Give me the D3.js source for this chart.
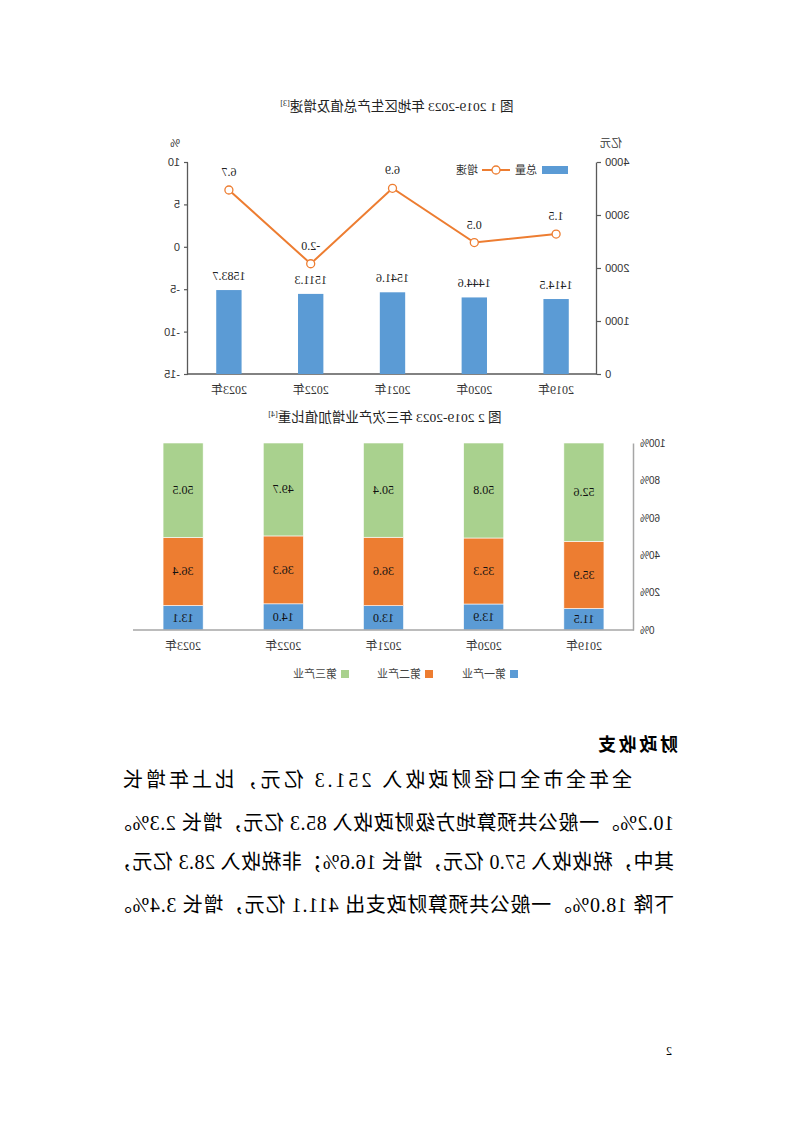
<!DOCTYPE html>
<html>
<head>
<meta charset="utf-8">
<script src="https://cdn.jsdelivr.net/npm/d3@7"></script>
<style>
  body { margin: 0; background: #fff; }
  svg { display: block; }
</style>
</head>
<body>
<div id="page"></div>
<script>
// chart 1 data
const years = ["2019年", "2020年", "2021年", "2022年", "2023年"];
const gdpTotal = [1414.5, 1444.6, 1541.6, 1511.3, 1583.7];
const gdpGrowth = [1.5, 0.5, 6.9, -2.0, 6.7];
const totalTicks = [0, 1000, 2000, 3000, 4000];
const growthTicks = [-15, -10, -5, 0, 5, 10];

// chart 2 data
const sectorNames = ["第一产业", "第二产业", "第三产业"];
const primaryShare = [11.5, 13.9, 13.0, 14.0, 13.1];
const secondaryShare = [35.9, 35.3, 36.6, 36.3, 36.4];
const tertiaryShare = [52.6, 50.8, 50.4, 49.7, 50.5];
const shareTicks = [0, 20, 40, 60, 80, 100];

const textLines = [
    "全年全市全口径财政收入 251.3 亿元，比上年增长",
    "10.2%。一般公共预算地方级财政收入 85.3 亿元，增长 2.3%。",
    "其中，税收收入 57.0 亿元，增长 16.6%；非税收入 28.3 亿元，",
    "下降 18.0%。一般公共预算财政支出 411.1 亿元，增长 3.4%。"
];

const W = 794, H = 1123;
const sans = "'Liberation Sans', 'Noto Sans CJK SC', sans-serif";
const serif = "'Liberation Serif', 'Noto Sans CJK SC', serif";
const blue = "#5B9BD5", orange = "#ED7D31", green = "#A9D18E";

const svg = d3.select("#page").append("svg")
    .attr("width", W)
    .attr("height", H);

// the page is shown mirrored left-right
const page = svg.append("g")
    .attr("transform", `translate(${W},0) scale(-1,1)`);

// ---------- figure 1 ----------
const t1 = page.append("text")
    .attr("x", 397).attr("y", 111)
    .attr("text-anchor", "middle")
    .attr("font-family", serif)
    .attr("font-size", "13.5px")
    .attr("fill", "#222");
t1.append("tspan").text("图 1 2019-2023 年地区生产总值及增速");
t1.append("tspan").attr("font-size", "8px").attr("dy", -5).text("[3]");

const x1 = d3.scaleBand().domain(years).range([197, 606])
    .paddingInner(0.69).paddingOuter(0.345);
const yL = d3.scaleLinear().domain([0, 4000]).range([374, 162]);
const yR = d3.scaleLinear().domain([-15, 10]).range([374, 162]);

const axisColor = "#595959";

const gL = page.append("g")
    .attr("transform", "translate(197,0)")
    .call(d3.axisLeft(yL).tickValues(totalTicks).tickFormat(d => String(d))
        .tickSize(4).tickSizeOuter(0).tickPadding(4));
const gR = page.append("g")
    .attr("transform", "translate(606,0)")
    .call(d3.axisRight(yR).tickValues(growthTicks).tickFormat(d => String(d))
        .tickSize(4).tickSizeOuter(0).tickPadding(4));
[gL, gR].forEach(g => {
    g.select(".domain").attr("stroke", axisColor).attr("stroke-width", 1.3);
    g.selectAll(".tick line").attr("stroke", axisColor).attr("stroke-width", 1.2);
    g.selectAll(".tick text").attr("fill", "#333").attr("font-size", "11px").attr("font-family", sans);
});

page.append("line")
    .attr("x1", 197).attr("x2", 606)
    .attr("y1", yL(0)).attr("y2", yL(0))
    .attr("stroke", axisColor).attr("stroke-width", 1.5);

page.append("text").attr("x", 183).attr("y", 147)
    .attr("text-anchor", "middle").attr("font-family", sans)
    .attr("font-size", "11px").attr("fill", "#333").text("亿元");
page.append("text").attr("x", 619).attr("y", 147)
    .attr("text-anchor", "middle").attr("font-family", sans)
    .attr("font-size", "11px").attr("fill", "#333").text("%");

page.selectAll("rect.total")
    .data(gdpTotal)
    .enter().append("rect")
    .attr("class", "total")
    .attr("x", (d, i) => x1(years[i]))
    .attr("y", d => yL(d))
    .attr("width", x1.bandwidth())
    .attr("height", d => yL(0) - yL(d))
    .attr("fill", blue);

page.selectAll("text.totalLabel")
    .data(gdpTotal)
    .enter().append("text")
    .attr("x", (d, i) => x1(years[i]) + x1.bandwidth() / 2)
    .attr("y", d => yL(d) - 10)
    .attr("text-anchor", "middle")
    .attr("font-family", serif)
    .attr("font-size", "12px")
    .attr("fill", "#222")
    .text(d => d.toFixed(1));

const cx = (d, i) => x1(years[i]) + x1.bandwidth() / 2;
const line = d3.line().x(cx).y(d => yR(d));
page.append("path")
    .datum(gdpGrowth)
    .attr("d", line)
    .attr("fill", "none")
    .attr("stroke", orange)
    .attr("stroke-width", 2);

page.selectAll("circle.growth")
    .data(gdpGrowth)
    .enter().append("circle")
    .attr("cx", cx)
    .attr("cy", d => yR(d))
    .attr("r", 4)
    .attr("fill", "#fff")
    .attr("stroke", orange)
    .attr("stroke-width", 1.3);

page.selectAll("text.growthLabel")
    .data(gdpGrowth)
    .enter().append("text")
    .attr("x", cx)
    .attr("y", d => yR(d) - 14)
    .attr("text-anchor", "middle")
    .attr("font-family", serif)
    .attr("font-size", "12px")
    .attr("fill", "#222")
    .text(d => d.toFixed(1));

page.selectAll("text.year1")
    .data(years)
    .enter().append("text")
    .attr("x", d => x1(d) + x1.bandwidth() / 2)
    .attr("y", 394)
    .attr("text-anchor", "middle")
    .attr("font-family", serif)
    .attr("font-size", "12px")
    .attr("fill", "#333")
    .text(d => d);

// legend
page.append("rect").attr("x", 226).attr("y", 166).attr("width", 26).attr("height", 8).attr("fill", blue);
page.append("text").attr("x", 257).attr("y", 174).attr("font-family", sans)
    .attr("font-size", "11px").attr("fill", "#333").text("总量");
page.append("line").attr("x1", 284).attr("x2", 312).attr("y1", 170).attr("y2", 170)
    .attr("stroke", orange).attr("stroke-width", 2);
page.append("circle").attr("cx", 298).attr("cy", 170).attr("r", 4)
    .attr("fill", "#fff").attr("stroke", orange).attr("stroke-width", 1.3);
page.append("text").attr("x", 316).attr("y", 174).attr("font-family", sans)
    .attr("font-size", "11px").attr("fill", "#333").text("增速");

// ---------- figure 2 ----------
const t2 = page.append("text")
    .attr("x", 409).attr("y", 422)
    .attr("text-anchor", "middle")
    .attr("font-family", serif)
    .attr("font-size", "13.5px")
    .attr("fill", "#222");
t2.append("tspan").text("图 2 2019-2023 年三次产业增加值比重");
t2.append("tspan").attr("font-size", "8px").attr("dy", -5).text("[4]");

const x2 = d3.scaleBand().domain(years).range([160, 661])
    .paddingInner(0.6).paddingOuter(0.3);
const y2 = d3.scaleLinear().domain([0, 100]).range([630, 443]);

const shareRows = years.map((y, i) => ({
    year: y,
    "第一产业": primaryShare[i],
    "第二产业": secondaryShare[i],
    "第三产业": tertiaryShare[i]
}));
const stacked = d3.stack().keys(sectorNames)(shareRows);
const sectorColor = d3.scaleOrdinal().domain(sectorNames).range([blue, orange, green]);

const layers = page.selectAll("g.layer")
    .data(stacked)
    .enter().append("g")
    .attr("fill", d => sectorColor(d.key));

layers.selectAll("rect")
    .data(d => d)
    .enter().append("rect")
    .attr("x", d => x2(d.data.year))
    .attr("y", d => y2(d[1]))
    .attr("width", x2.bandwidth())
    .attr("height", d => y2(d[0]) - y2(d[1]))
    .attr("stroke", "#fff")
    .attr("stroke-width", 0.6);

layers.selectAll("text")
    .data(d => d.map(v => ({ v, key: d.key })))
    .enter().append("text")
    .attr("x", d => x2(d.v.data.year) + x2.bandwidth() / 2)
    .attr("y", d => (y2(d.v[0]) + y2(d.v[1])) / 2 + 4)
    .attr("text-anchor", "middle")
    .attr("font-family", serif)
    .attr("font-size", "12px")
    .attr("fill", "#111")
    .text(d => d.v.data[d.key].toFixed(1));

const g2 = page.append("g")
    .attr("transform", "translate(160,0)")
    .call(d3.axisLeft(y2).tickValues(shareTicks).tickFormat(d => d + "%").tickSize(0).tickPadding(6));
g2.select(".domain").attr("stroke", "#A6A6A6").attr("stroke-width", 1.5);
g2.selectAll(".tick text").attr("fill", "#333").attr("font-size", "10px").attr("font-family", sans);

page.append("line")
    .attr("x1", 160).attr("x2", 661)
    .attr("y1", y2(0)).attr("y2", y2(0))
    .attr("stroke", "#A6A6A6").attr("stroke-width", 1.5);

page.selectAll("text.year2")
    .data(years)
    .enter().append("text")
    .attr("x", d => x2(d) + x2.bandwidth() / 2)
    .attr("y", 650)
    .attr("text-anchor", "middle")
    .attr("font-family", serif)
    .attr("font-size", "12px")
    .attr("fill", "#333")
    .text(d => d);

const legendX = [276, 361, 445];
sectorNames.forEach((name, i) => {
    page.append("rect").attr("x", legendX[i]).attr("y", 670)
        .attr("width", 8).attr("height", 8).attr("fill", sectorColor(name));
    page.append("text").attr("x", legendX[i] + 12).attr("y", 678)
        .attr("font-family", sans).attr("font-size", "11px").attr("fill", "#444")
        .text(name);
});

// ---------- text block ----------
page.append("text")
    .attr("x", 116).attr("y", 751)
    .attr("font-family", sans)
    .attr("font-weight", "bold")
    .attr("font-size", "18px")
    .attr("textLength", 80)
    .attr("lengthAdjust", "spacing")
    .attr("fill", "#000")
    .text("财政收支");

const lineY = [787, 830, 869, 912];
textLines.forEach((t, i) => {
    const x0 = i === 0 ? 162 : 120;
    const x1End = i === 0 ? 671 : 682;
    page.append("text")
        .attr("x", x0).attr("y", lineY[i])
        .attr("font-family", serif)
        .attr("font-size", "20px")
        .attr("textLength", x1End - x0)
        .attr("lengthAdjust", "spacing")
        .attr("fill", "#000")
        .text(t);
});

page.append("text")
    .attr("x", 122).attr("y", 1055)
    .attr("font-family", serif)
    .attr("font-size", "12px")
    .attr("fill", "#000")
    .text("2");
</script>
</body>
</html>
